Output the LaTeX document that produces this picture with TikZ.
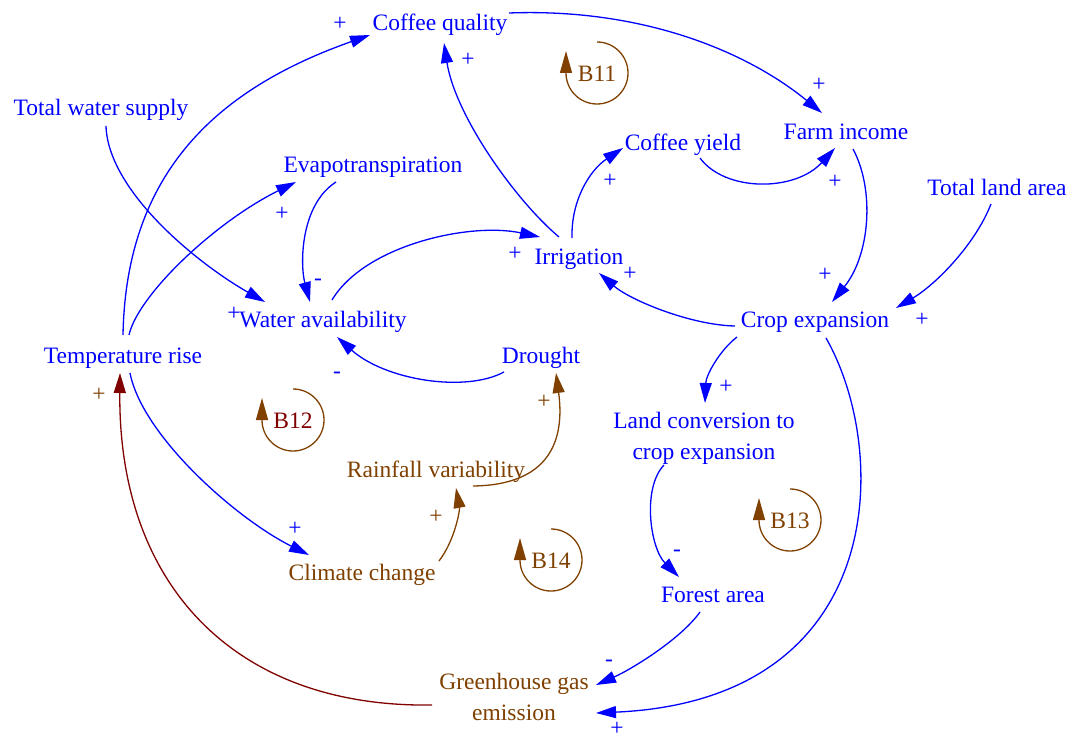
\documentclass[tikz,border=0pt]{standalone}
\usepackage{fontspec}
\setmainfont{Liberation Serif}
\usetikzlibrary{arrows.meta,calc}
\definecolor{cblue}{RGB}{0,0,255}
\definecolor{cbrown}{RGB}{128,64,0}
\definecolor{cdred}{RGB}{128,0,0}
\begin{document}
\begin{tikzpicture}[x=1pt,y=1pt,
  every node/.style={inner sep=0pt, font=\fontsize{23.5}{31}\selectfont},
  var/.style={text=cblue, text height=19pt, text depth=2pt},
  vartwo/.style={text=cblue, align=center},
  varb/.style={text=cbrown, text height=19pt, text depth=2pt},
  varbtwo/.style={text=cbrown, align=center},
  lab/.style={text=cblue, text height=19pt, text depth=2pt},
  labb/.style={text=cbrown, text height=19pt, text depth=2pt},
  link/.style={color=cblue, line width=1.3pt, -{Triangle[length=20pt,width=12pt]}},
  linkb/.style={link, color=cbrown},
  linkr/.style={link, color=cdred},
  loopsym/.style={color=cbrown, line width=1.3pt, -{Triangle[length=22pt,width=12pt]}},
  looptxt/.style={text=cbrown, text height=19pt, text depth=2pt}
]
\fill[white] (0,0) rectangle (1074,-741);
\useasboundingbox (0,0) rectangle (1074,-741);

% variables
\node[var] (cq) at (440,-22) {Coffee quality};
\node[var] (tws) at (101,-107) {Total water supply};
\node[var] (ev) at (373,-164) {Evapotranspiration};
\node[var] (cy) at (683,-142) {Coffee yield};
\node[var] (fi) at (846,-131) {Farm income};
\node[var] (tla) at (997,-187) {Total land area};
\node[var] (irr) at (579,-256) {Irrigation};
\node[var] (ce) at (815,-319) {Crop expansion};
\node[var] (wa) at (323,-319) {Water availability};
\node[var] (tr) at (123,-355) {Temperature rise};
\node[var] (dr) at (541,-355) {Drought};
\node[vartwo] (lc) at (704,-438) {Land conversion to\\crop expansion};
\node[varb] (rv) at (436,-469) {Rainfall variability};
\node[varb] (cc) at (362,-572) {Climate change};
\node[var] (fa) at (713,-594) {Forest area};
\node[varbtwo] (ghg) at (514,-697) {Greenhouse gas\\emission};

% links
\draw[link] ($(tr)+(0,20)$) .. controls (126,-170) and (220,-88) .. ($(cq)+(-70,-13)$);
\draw[link] ($(cq)+(69,9)$) .. controls (640,-8) and (745,-50) .. ($(fi)+(-24,18)$);
\draw[link] ($(irr)+(-20,19)$) .. controls (515,-200) and (455,-115) .. ($(cq)+(4,-21)$);
\draw[link] ($(tws)+(5,-19)$) .. controls (108,-190) and (195,-262) .. ($(wa)+(-58,17)$);
\draw[link] ($(tr)+(6,20)$) .. controls (138,-295) and (215,-222) .. ($(ev)+(-77,-18)$);
\draw[link] ($(ev)+(-37,-18)$) .. controls (300,-205) and (300,-265) .. ($(wa)+(-13,17)$);
\draw[link] ($(wa)+(9,19)$) .. controls (365,-245) and (470,-222) .. ($(irr)+(-39,19)$);
\draw[link] ($(irr)+(-7,18)$) .. controls (571,-200) and (590,-170) .. ($(cy)+(-60,-6)$);
\draw[link] ($(cy)+(17,-16)$) .. controls (725,-192) and (795,-192) .. ($(fi)+(-11,-17)$);
\draw[link] ($(fi)+(7,-18)$) .. controls (875,-190) and (870,-255) .. ($(ce)+(17,17)$);
\draw[link] ($(tla)+(-6,-17)$) .. controls (975,-245) and (935,-285) .. ($(ce)+(81,11)$);
\draw[link] ($(ce)+(-80,-7)$) .. controls (690,-325) and (630,-300) .. ($(irr)+(20,-17)$);
\draw[link] ($(dr)+(-37,-17)$) .. controls (465,-393) and (385,-380) .. ($(wa)+(14,-18)$);
\draw[link] ($(ce)+(-78,-18)$) .. controls (720,-350) and (706,-375) .. ($(lc)+(1,35)$);
\draw[link] ($(ce)+(11,-19)$) .. controls (890,-450) and (890,-700) .. ($(ghg)+(82,-16)$);
\draw[link] ($(lc)+(-40,-27)$) .. controls (642,-488) and (650,-548) .. ($(fa)+(-34,17)$);
\draw[link] ($(fa)+(-13,-18)$) .. controls (680,-640) and (630,-670) .. ($(ghg)+(82,12)$);
\draw[linkr] ($(ghg)+(-82,-8)$) .. controls (235,-708) and (118,-585) .. ($(tr)+(-3,-18)$);
\draw[link] ($(tr)+(7,-18)$) .. controls (142,-435) and (235,-518) .. ($(cc)+(-53,17)$);
\draw[linkb] ($(cc)+(77,11)$) .. controls (455,-540) and (460,-510) .. ($(rv)+(20,-19)$);
\draw[linkb] ($(rv)+(37,-17)$) .. controls (550,-485) and (565,-440) .. ($(dr)+(15,-18)$);

% polarity labels
\node[lab] (p1) at (340,-22) {+};
\node[lab] (p2) at (819,-83) {+};
\node[lab] (p3) at (468,-58) {+};
\node[lab] (p4) at (234,-312) {+};
\node[lab] (p5) at (282,-212) {+};
\node[lab] (p6) at (318,-277) {-};
\node[lab] (p7) at (515,-252) {+};
\node[lab] (p8) at (610,-179) {+};
\node[lab] (p9) at (835,-180) {+};
\node[lab] (p10) at (825,-273) {+};
\node[lab] (p11) at (922,-318) {+};
\node[lab] (p12) at (630,-272) {+};
\node[lab] (p13) at (337,-370) {-};
\node[lab] (p14) at (726,-385) {+};
\node[lab] (p15) at (617,-727) {+};
\node[lab] (p16) at (677,-548) {-};
\node[lab] (p17) at (609,-658) {-};
\node[labb] (p18) at (99,-393) {+};
\node[lab] (p19) at (295,-527) {+};
\node[labb] (p20) at (436,-515) {+};
\node[labb] (p21) at (544,-400) {+};

% loop markers
\node[looptxt] (b11) at (597,-73) {B11};
\draw[loopsym] ($(b11)+(0,31)$) arc[start angle=90,end angle=-180,radius=31] -- ++(0,22);
\node[looptxt, text=cdred] (b12) at (293,-420) {B12};
\draw[loopsym] ($(b12)+(0,31)$) arc[start angle=90,end angle=-180,radius=31] -- ++(0,22);
\node[looptxt] (b13) at (790,-520) {B13};
\draw[loopsym] ($(b13)+(0,31)$) arc[start angle=90,end angle=-180,radius=31] -- ++(0,22);
\node[looptxt] (b14) at (551,-560) {B14};
\draw[loopsym] ($(b14)+(0,31)$) arc[start angle=90,end angle=-180,radius=31] -- ++(0,22);
\end{tikzpicture}
\end{document}
